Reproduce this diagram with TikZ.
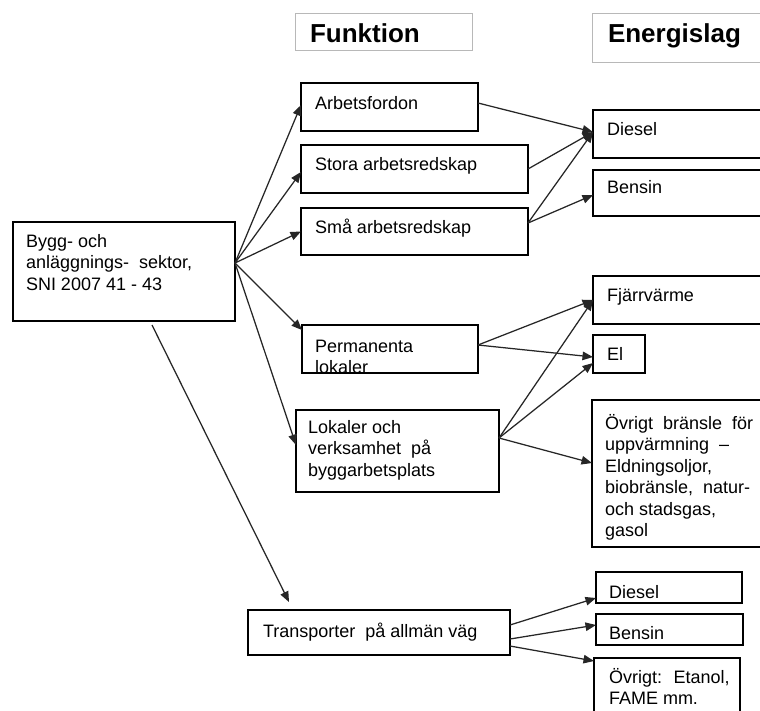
\documentclass[tikz,border=0pt]{standalone}
\usepackage{fontspec}
\setmainfont{Liberation Sans}
\usetikzlibrary{arrows.meta,calc}
% several text lines, baseline at the first line
\newcommand\stacklines[1]{\begin{tabular}[t]{@{}l@{}}#1\end{tabular}}
\tikzset{
  box/.style={draw=black, line width=1.4pt, anchor=north west, inner sep=0pt, outer sep=0pt},
  headbox/.style={draw=black!28, line width=0.9pt, anchor=north west, inner sep=0pt, outer sep=0pt},
  txt/.style={anchor=base west, inner sep=0pt, outer sep=0pt, font=\fontsize{18}{21.5}\selectfont},
  headtxt/.style={anchor=base west, inner sep=0pt, outer sep=0pt, font=\bfseries\fontsize{26}{30}\selectfont},
  conn/.style={draw=black!85, line width=1.25pt, -{Triangle[length=10.5pt,width=8.5pt]}},
}
\begin{document}
\begin{tikzpicture}[x=1pt, y=-1pt]
\useasboundingbox (0,0) rectangle (760,710);
\clip (0,0) rectangle (760,710);
\fill[white] (0,0) rectangle (760,710);

% column headings
\node[headbox, minimum width=177pt, minimum height=37pt] (fhead) at (295,13) {};
\node[headbox, minimum width=183pt, minimum height=49pt] (ehead) at (592,13) {};
\node[headtxt] (fheadt) at (310,42) {Funktion};
\node[headtxt] (eheadt) at (608,42) {Energislag};

% sector
\node[box, minimum width=222pt, minimum height=99pt] (main) at (13,222) {};
\node[txt] (maint) at (26,247) {\stacklines{Bygg- och\\anläggnings-~ sektor,\\SNI 2007 41 - 43}};

% functions
\node[box, minimum width=177pt, minimum height=48pt] (arb) at (301,83) {};
\node[txt] (arbt) at (315,109) {Arbetsfordon};
\node[box, minimum width=227pt, minimum height=48pt] (stora) at (301,145) {};
\node[txt] (storat) at (315,170) {Stora arbetsredskap};
\node[box, minimum width=227pt, minimum height=47pt] (sma) at (301,208) {};
\node[txt] (smat) at (315,233) {Små arbetsredskap};
\node[box, minimum width=176pt, minimum height=48pt] (perm) at (302,325) {};
\begin{scope}
  \clip (perm.north west) rectangle (perm.south east);
  \node[txt] (permt) at (315,352) {\stacklines{Permanenta\\lokaler}};
\end{scope}
\draw[line width=1.4pt] (perm.north west) rectangle (perm.south east);
\node[box, minimum width=203pt, minimum height=82pt] (lok) at (296,410) {};
\node[txt] (lokt) at (308,433) {\stacklines{Lokaler och\\verksamhet~ på\\byggarbetsplats}};
\node[box, minimum width=262pt, minimum height=45pt] (trans) at (248,610) {};
\node[txt] (transt) at (263,637) {Transporter~ på allmän väg};

% energy types
\node[box, minimum width=182pt, minimum height=48pt] (diesel) at (593,110) {};
\node[txt] (dieselt) at (607,135) {Diesel};
\node[box, minimum width=182pt, minimum height=46pt] (bensin) at (593,170) {};
\node[txt] (bensint) at (607,193) {Bensin};
\node[box, minimum width=182pt, minimum height=48pt] (fjarr) at (593,276) {};
\node[txt] (fjarrt) at (607,301) {Fjärrvärme};
\node[box, minimum width=52pt, minimum height=38pt] (el) at (593,335) {};
\node[txt] (elt) at (607,360) {El};
\node[box, minimum width=183pt, minimum height=147pt] (ovr) at (592,400) {};
\node[txt] (ovrt) at (605,429) {\stacklines{Övrigt~ bränsle~ för\\uppvärmning~ –\\Eldningsoljor,\\biobränsle,~ natur-\\och stadsgas,\\gasol}};
\node[box, minimum width=146pt, minimum height=31pt] (dtwo) at (596,572) {};
\node[txt] (dtwot) at (609,598) {Diesel};
\node[box, minimum width=147pt, minimum height=31pt] (btwo) at (596,614) {};
\node[txt] (btwot) at (609,639) {Bensin};
\node[box, minimum width=146pt, minimum height=70pt] (otwo) at (594,658) {};
\node[txt] (otwot) at (609,683) {\stacklines{Övrigt:~ Etanol,\\FAME mm.}};

% sector to functions
\coordinate (mainout) at ($(main.north east)+(0,41)$);
\coordinate (mainlow) at ($(main.south west)+(139,4)$);
\draw[conn] (mainout) -- ($(arb.west)+(0,-2)$);
\draw[conn] (mainout) -- ($(stora.west)+(0,3)$);
\draw[conn] (mainout) -- (sma.west);
\draw[conn] (mainout) -- ($(perm.north west)+(0,5)$);
\draw[conn] (mainout) -- ($(lok.north west)+(0,35)$);
\draw[conn] (mainlow) -- ($(trans.north west)+(41,-8)$);

% functions to energy types
\coordinate (dieselin) at ($(diesel.north west)+(0,22)$);
\coordinate (fjarrin) at ($(fjarr.north west)+(0,24)$);
\draw[conn] ($(arb.north east)+(0,20)$) -- (dieselin);
\draw[conn] (stora.east) -- (dieselin);
\draw[conn] ($(sma.north east)+(0,15)$) -- (dieselin);
\draw[conn] ($(sma.north east)+(0,15)$) -- ($(bensin.north west)+(0,25)$);
\draw[conn] ($(perm.north east)+(0,20)$) -- (fjarrin);
\draw[conn] ($(perm.north east)+(0,20)$) -- ($(el.north west)+(0,22)$);
\draw[conn] ($(lok.north east)+(0,28)$) -- (fjarrin);
\draw[conn] ($(lok.north east)+(0,28)$) -- ($(el.north west)+(0,28)$);
\draw[conn] ($(lok.north east)+(0,28)$) -- ($(ovr.north west)+(0,63)$);
\draw[conn] ($(trans.north east)+(0,15)$) -- ($(dtwo.north west)+(0,26)$);
\draw[conn] ($(trans.north east)+(0,29)$) -- ($(btwo.north west)+(0,11)$);
\draw[conn] ($(trans.north east)+(0,36)$) -- ($(otwo.north west)+(0,3)$);
\end{tikzpicture}
\end{document}
